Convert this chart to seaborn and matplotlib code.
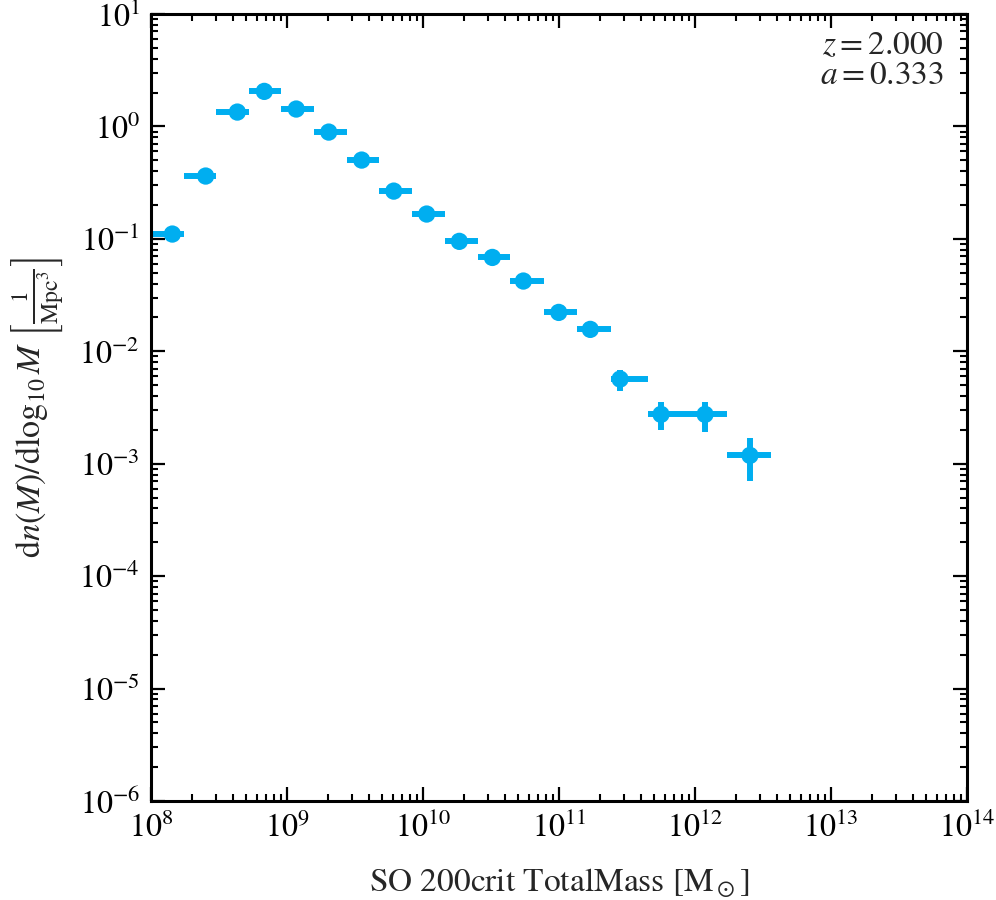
import numpy as np
import pandas as pd
import matplotlib
matplotlib.use("Agg")
import matplotlib.pyplot as plt
import seaborn as sns
from matplotlib.ticker import LogLocator, NullFormatter

# ---- data (log10 values) ----
log_mass = [8.157, 8.402, 8.635, 8.833, 9.068, 9.307, 9.549, 9.785, 10.027,
            10.267, 10.510, 10.738, 10.998, 11.230, 11.449, 11.750, 12.074, 12.404]
log_dndm = [-0.957, -0.441, 0.128, 0.312, 0.155, -0.050, -0.299, -0.575, -0.779,
            -1.022, -1.165, -1.375, -1.654, -1.805, -2.247, -2.561, -2.561, -2.926]
log_bin_lo = [8.015, 8.243, 8.478, 8.721, 8.956, 9.199, 9.441, 9.676, 9.919,
              10.162, 10.404, 10.640, 10.890, 11.132, 11.382, 11.654, 11.956, 12.235]
log_bin_hi = [8.243, 8.478, 8.721, 8.956, 9.199, 9.441, 9.676, 9.919, 10.162,
              10.404, 10.640, 10.890, 11.132, 11.382, 11.654, 11.956, 12.235, 12.559]
log_y_lo = [-0.965, -0.447, 0.124, 0.309, 0.151, -0.056, -0.306, -0.584, -0.790,
            -1.036, -1.183, -1.398, -1.685, -1.855, -2.354, -2.701, -2.716, -3.155]
log_y_hi = [-0.949, -0.435, 0.132, 0.315, 0.159, -0.044, -0.292, -0.566, -0.768,
            -1.008, -1.147, -1.352, -1.623, -1.755, -2.167, -2.452, -2.452, -2.772]

redshift_text = [r"$z = 2.000$", r"$a = 0.333$"]

df = pd.DataFrame({
    "mass": 10.0 ** np.array(log_mass),
    "dndm": 10.0 ** np.array(log_dndm),
})
xlo = 10.0 ** np.array(log_bin_lo)
xhi = 10.0 ** np.array(log_bin_hi)
ylo = 10.0 ** np.array(log_y_lo)
yhi = 10.0 ** np.array(log_y_hi)

sns.set_theme(style="ticks")
plt.rcParams["font.family"] = ["STIXGeneral", "DejaVu Serif"]
plt.rcParams["mathtext.fontset"] = "stix"

color = "#00aef0"

fig = plt.figure(figsize=(9.96, 9.0), dpi=100)
ax = fig.add_axes([0.1516, 0.11, 0.8193, 0.8744])

ax.errorbar(df["mass"], df["dndm"],
            xerr=[df["mass"] - xlo, xhi - df["mass"]],
            yerr=[df["dndm"] - ylo, yhi - df["dndm"]],
            fmt="none", ecolor=color, elinewidth=4.3, capsize=0, zorder=2)
sns.scatterplot(data=df, x="mass", y="dndm", ax=ax, color=color, s=155,
                edgecolor="none", linewidth=0, zorder=3)

ax.set_xscale("log")
ax.set_yscale("log")
ax.set_xlim(1e8, 1e14)
ax.set_ylim(1e-6, 1e1)

ax.xaxis.set_major_locator(LogLocator(base=10, numticks=20))
ax.yaxis.set_major_locator(LogLocator(base=10, numticks=20))
ax.xaxis.set_minor_locator(LogLocator(base=10, subs=np.arange(2, 10), numticks=100))
ax.yaxis.set_minor_locator(LogLocator(base=10, subs=np.arange(2, 10), numticks=100))
ax.xaxis.set_minor_formatter(NullFormatter())
ax.yaxis.set_minor_formatter(NullFormatter())

ax.tick_params(which="both", direction="in", top=True, right=True, colors="black")
ax.tick_params(which="major", length=10, width=1.6, labelsize=23, pad=8)
ax.tick_params(which="minor", length=5, width=1.5)
for sp in ax.spines.values():
    sp.set_linewidth(2.2)
    sp.set_color("black")

ax.set_xlabel(r"SO 200crit TotalMass [M$_\odot$]", fontsize=24, labelpad=16)
ax.set_ylabel(r"$\mathrm{d}n(M)/\mathrm{d}\log_{10}M\ \left[\frac{1}{\mathrm{Mpc}^3}\right]$",
              fontsize=24.5, labelpad=10)

ax.text(0.972, 0.977, redshift_text[0] + "\n" + redshift_text[1],
        transform=ax.transAxes, ha="right", va="top", fontsize=24,
        linespacing=1.0)

fig.savefig("out.png", dpi=100)
